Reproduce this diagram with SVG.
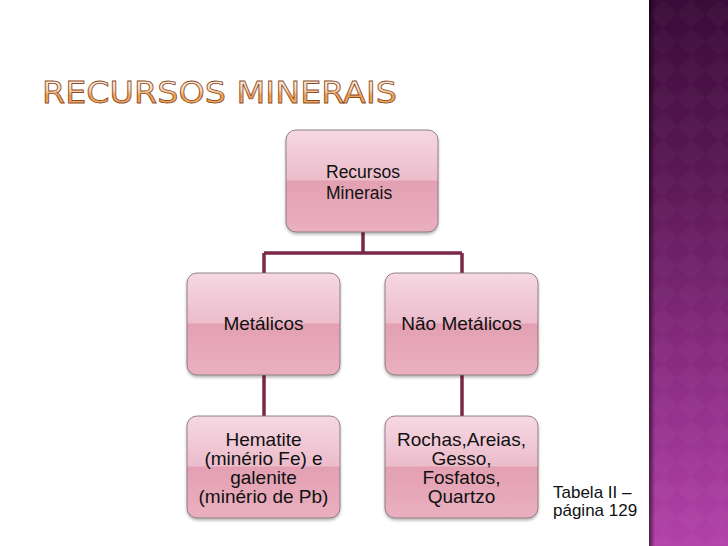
<svg xmlns="http://www.w3.org/2000/svg" width="728" height="546" viewBox="0 0 728 546">
<defs>
<linearGradient id="panel" x1="0" y1="0" x2="0" y2="1">
<stop offset="0" stop-color="#3a0b38"/>
<stop offset="0.35" stop-color="#5e1a58"/>
<stop offset="0.7" stop-color="#8e2e86"/>
<stop offset="1" stop-color="#b242a8"/>
</linearGradient>
<linearGradient id="edge" x1="0" y1="0" x2="1" y2="0">
<stop offset="0" stop-color="#000" stop-opacity="0.55"/>
<stop offset="1" stop-color="#000" stop-opacity="0"/>
</linearGradient>
<pattern id="diam" width="28" height="28" patternUnits="userSpaceOnUse" x="649">
<path d="M14 0 L28 14 L14 28 L0 14 Z" fill="#ffffff" fill-opacity="0.022"/>
</pattern>
<linearGradient id="title" x1="0" y1="0" x2="0" y2="1">
<stop offset="0" stop-color="#ffffff"/>
<stop offset="0.45" stop-color="#fad8b0"/>
<stop offset="0.6" stop-color="#f0a050"/>
<stop offset="1" stop-color="#f6b870"/>
</linearGradient>
<linearGradient id="box" x1="0" y1="0" x2="0" y2="1">
<stop offset="0" stop-color="#f6d8e2"/>
<stop offset="0.49" stop-color="#ecbccb"/>
<stop offset="0.5" stop-color="#e3a0b3"/>
<stop offset="1" stop-color="#eab0c0"/>
</linearGradient>
<filter id="sh" x="-10%" y="-10%" width="120%" height="130%">
<feDropShadow dx="0" dy="2" stdDeviation="1.5" flood-color="#000" flood-opacity="0.3"/>
</filter>
</defs>
<style>
.node rect{fill:url(#box);stroke:#7a6a70;stroke-width:0.8;filter:url(#sh)}
.node text{font-family:"Liberation Sans","DejaVu Sans",sans-serif;fill:#111;}
.c{text-anchor:middle}
.conn{stroke:#7a2848;stroke-width:3.5;fill:none}
</style>
<rect width="728" height="546" fill="#ffffff"/>
<g id="panel-bg">
<rect x="649" y="0" width="79" height="546" fill="url(#panel)"/>
<rect x="649" y="0" width="79" height="546" fill="url(#diam)"/>
<rect x="649" y="0" width="6" height="546" fill="url(#edge)"/>
</g>
<text id="title-text" x="42" y="103" textLength="355" lengthAdjust="spacingAndGlyphs" font-family="'DejaVu Sans',sans-serif" font-size="31" fill="url(#title)" stroke="#8a4a28" stroke-width="0.8">RECURSOS MINERAIS</text>
<g id="connectors" class="conn">
<path d="M363 232 V253 M264 253 H462 M264 253 V273 M462 253 V273"/>
<path d="M264 375 V416"/>
<path d="M462 375 V416"/>
</g>
<g id="root" class="node">
<rect x="286" y="130" width="152" height="102" rx="10"/>
<text font-size="17.5"><tspan x="326" y="178">Recursos</tspan><tspan x="326" y="199">Minerais</tspan></text>
</g>
<g id="metalicos" class="node">
<rect x="187" y="273" width="153" height="102" rx="10"/>
<text class="c" x="263.5" y="330" font-size="19">Metálicos</text>
</g>
<g id="nao-metalicos" class="node">
<rect x="385" y="273" width="153" height="102" rx="10"/>
<text class="c" x="461.5" y="330" font-size="19">Não Metálicos</text>
</g>
<g id="hematite" class="node">
<rect x="187" y="416" width="153" height="102" rx="10"/>
<text class="c" font-size="19"><tspan x="263.5" y="446">Hematite</tspan><tspan x="263.5" y="465">(minério Fe) e</tspan><tspan x="263.5" y="484">galenite</tspan><tspan x="263.5" y="503">(minério de Pb)</tspan></text>
</g>
<g id="rochas" class="node">
<rect x="385" y="416" width="153" height="102" rx="10"/>
<text class="c" font-size="19"><tspan x="461.5" y="446">Rochas,Areias,</tspan><tspan x="461.5" y="465">Gesso,</tspan><tspan x="461.5" y="484">Fosfatos,</tspan><tspan x="461.5" y="503">Quartzo</tspan></text>
</g>
<text id="note" font-family="'Liberation Sans','DejaVu Sans',sans-serif" font-size="17" fill="#111"><tspan x="553" y="498">Tabela II –</tspan><tspan x="553" y="516">página 129</tspan></text>
</svg>
